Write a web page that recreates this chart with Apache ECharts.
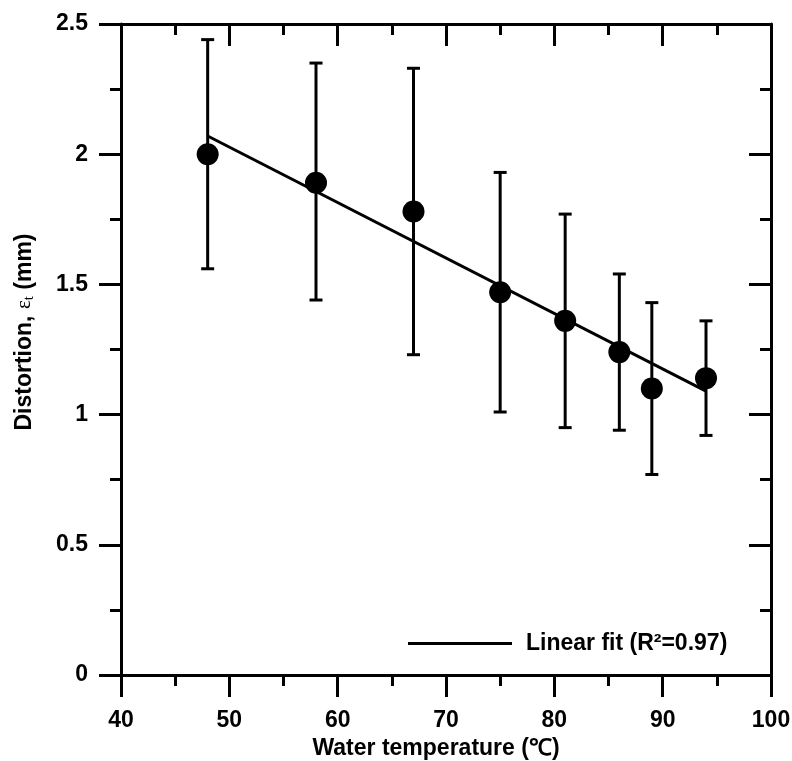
<!DOCTYPE html>
<html>
<head>
<meta charset="utf-8">
<script src="https://cdn.jsdelivr.net/npm/echarts@6/dist/echarts.min.js"></script>
<style>
  html, body { margin: 0; padding: 0; background: #fff; }
  #main { width: 792px; height: 761px; }
</style>
</head>
<body>
<div id="main"></div>
<script>
// water temperature (°C) and measured distortion (mm)
const temps = [48, 58, 67, 75, 81, 86, 89, 94]
const distortion = [2.0, 1.89, 1.78, 1.47, 1.36, 1.24, 1.10, 1.14]
const errLow = [1.56, 1.44, 1.23, 1.01, 0.95, 0.94, 0.77, 0.92]
const errHigh = [2.44, 2.35, 2.33, 1.93, 1.77, 1.54, 1.43, 1.36]
// ends of the linear fit line
const fitX = [48, 94]
const fitY = [2.07, 1.09]

const font = "'Liberation Sans', Arial, sans-serif"
const black = '#000'

const points = temps.map((t, i) => [t, distortion[i]])
const bars = temps.map((t, i) => [t, errLow[i], errHigh[i]])
const fit = fitX.map((x, i) => [x, fitY[i]])

const chart = echarts.init(document.getElementById('main'))

const axisCommon = {
  type: 'value',
  splitLine: { show: false },
  axisLine: { show: true, onZero: false, lineStyle: { color: black, width: 3 } },
  axisTick: { show: true, length: 22, lineStyle: { color: black, width: 3 } },
  minorTick: { show: true, splitNumber: 2, length: 11, lineStyle: { color: black, width: 3 } },
  axisLabel: { color: black, fontFamily: font, fontWeight: 'bold', fontSize: 23 },
}

chart.setOption({
  animation: false,
  backgroundColor: '#fff',
  grid: { left: 121, right: 21, top: 24, bottom: 86, outerBoundsMode: 'none', containLabel: false },
  legend: {
    left: 408,
    top: 632,
    padding: 0,
    icon: 'rect',
    itemWidth: 104,
    itemHeight: 3,
    data: ['Linear fit (R²=0.97)'],
    itemStyle: { color: black },
    textStyle: { color: black, fontFamily: font, fontWeight: 'bold', fontSize: 23, padding: [0, 0, 0, 9] },
  },
  xAxis: [
    {
      ...axisCommon,
      position: 'bottom',
      min: 40,
      max: 100,
      interval: 10,
      axisLabel: { ...axisCommon.axisLabel, margin: 34 },
      name: 'Water temperature (℃)',
      nameLocation: 'middle',
      nameGap: 59,
      nameTextStyle: { color: black, fontFamily: font, fontWeight: 'bold', fontSize: 23, padding: [0, 20, 0, 0] },
    },
    {
      ...axisCommon,
      position: 'top',
      min: 40,
      max: 100,
      interval: 10,
      axisTick: { ...axisCommon.axisTick, inside: true },
      axisLabel: { show: false },
    },
  ],
  yAxis: [
    {
      ...axisCommon,
      position: 'left',
      min: 0,
      max: 2.5,
      interval: 0.5,
      axisLabel: { ...axisCommon.axisLabel, margin: 33 },
      name: '{b|Distortion, }{e|ε}{s|t}{b| (mm)}',
      nameLocation: 'middle',
      nameGap: 84,
      nameTextStyle: {
        padding: [0, 0, 0, 35],
        rich: {
          b: { color: black, fontFamily: font, fontWeight: 'bold', fontSize: 23 },
          e: { color: black, fontFamily: "'Liberation Serif', serif", fontSize: 21 },
          s: { color: black, fontFamily: "'Liberation Serif', serif", fontSize: 15, padding: [10, 0, 0, 0] },
        },
      },
    },
    {
      ...axisCommon,
      position: 'right',
      min: 0,
      max: 2.5,
      interval: 0.5,
      axisTick: { ...axisCommon.axisTick, inside: true },
      axisLabel: { show: false },
    },
  ],
  series: [
    {
      type: 'custom',
      name: 'err',
      z: 2,
      data: bars,
      renderItem(params, api) {
        const x = api.value(0)
        const lo = api.coord([x, api.value(1)])
        const hi = api.coord([x, api.value(2)])
        const cap = 6.5
        const style = { stroke: black, lineWidth: 3 }
        return {
          type: 'group',
          children: [
            { type: 'line', shape: { x1: lo[0], y1: lo[1], x2: hi[0], y2: hi[1] }, style },
            { type: 'line', shape: { x1: lo[0] - cap, y1: lo[1], x2: lo[0] + cap, y2: lo[1] }, style },
            { type: 'line', shape: { x1: hi[0] - cap, y1: hi[1], x2: hi[0] + cap, y2: hi[1] }, style },
          ],
        }
      },
    },
    {
      type: 'line',
      name: 'Linear fit (R²=0.97)',
      z: 3,
      data: fit,
      symbol: 'none',
      lineStyle: { color: black, width: 3 },
      itemStyle: { color: black },
    },
    {
      type: 'scatter',
      name: 'data',
      z: 4,
      data: points,
      symbol: 'circle',
      symbolSize: 22,
      itemStyle: { color: black, opacity: 1 },
    },
  ],
})
</script>
</body>
</html>
